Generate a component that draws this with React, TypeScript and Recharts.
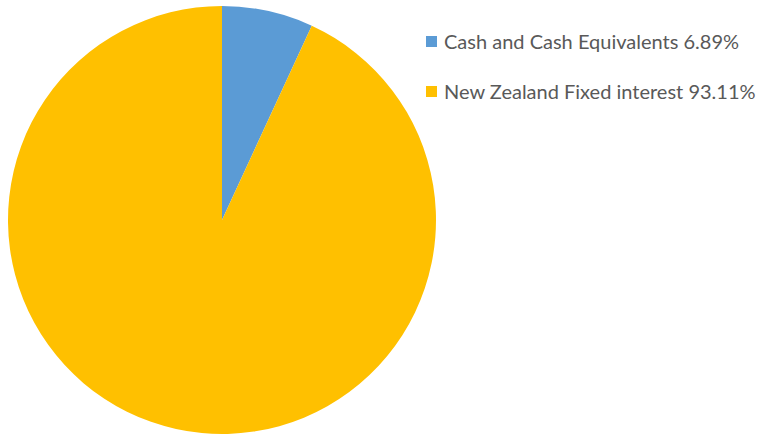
import { PieChart, Pie, Cell, Legend } from "recharts";

const labels: string[] = ["Cash and Cash Equivalents", "New Zealand Fixed interest"];
const values: number[] = [6.89, 93.11];
const colors: string[] = ["#5B9BD5", "#FFC000"];

const data = labels.map((name, i) => ({ name, value: values[i] }));

const renderLegend = () => (
  <div style={{ fontFamily: "Lato, 'Open Sans', sans-serif", fontSize: 20, color: "#595959" }}>
    {data.map((d, i) => (
      <div
        key={d.name}
        style={{ display: "flex", alignItems: "center", height: 24, marginBottom: i === 0 ? 26 : 0, whiteSpace: "nowrap" }}
      >
        <span style={{ display: "inline-block", width: 11, height: 11, background: colors[i], marginRight: 7 }} />
        <span>{`${d.name} ${d.value.toFixed(2)}%`}</span>
      </div>
    ))}
  </div>
);

export default function App() {
  return (
    <div style={{ position: "absolute", left: 0, top: 0, background: "#fff" }}>
      <PieChart width={759} height={436} margin={{ top: 0, right: 0, bottom: 0, left: 0 }}>
        <Pie
          data={data}
          dataKey="value"
          nameKey="name"
          cx={222}
          cy={220}
          outerRadius={214}
          startAngle={90}
          endAngle={-270}
          stroke="none"
          isAnimationActive={false}
        >
          {data.map((d, i) => (
            <Cell key={d.name} fill={colors[i]} />
          ))}
        </Pie>
        <Legend
          layout="vertical"
          verticalAlign="top"
          align="right"
          content={renderLegend}
          wrapperStyle={{ left: 426, top: 29, width: 333 }}
        />
      </PieChart>
    </div>
  );
}
